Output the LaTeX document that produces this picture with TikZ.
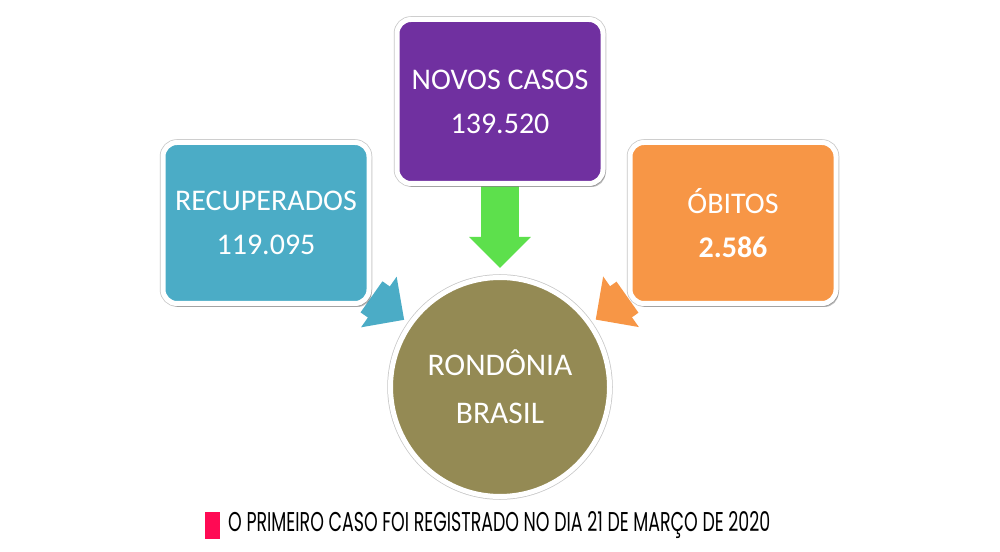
\documentclass[tikz,border=0pt]{standalone}
\usepackage{fontspec}
\setmainfont{Carlito}
\newfontfamily\notefont{Poppins}
\usetikzlibrary{arrows.meta, shadows, backgrounds}

\definecolor{recTeal}{HTML}{4BACC6}
\definecolor{newPurple}{HTML}{7030A0}
\definecolor{deathOrange}{HTML}{F79646}
\definecolor{hubOlive}{HTML}{948A54}
\definecolor{flowGreen}{HTML}{5DE04C}
\definecolor{notePink}{HTML}{FF0A54}

\begin{document}
\begin{tikzpicture}[
    x=1pt, y=1pt,
    % Style for the three rounded boxes: white rim and a soft shadow
    card/.style = {draw=white, line width=5pt, rounded corners=14pt,
        preaction={draw=black!22, line width=6.5pt},
        minimum width=206pt, minimum height=161pt, align=center,
        text=white, font=\fontsize{30}{44}\selectfont,
        drop shadow={shadow xshift=2.5pt, shadow yshift=-3.5pt, opacity=0.25, fill=black}},
    % Style for the central circle
    hub/.style = {circle, draw=white, line width=5pt, minimum size=219pt,
        preaction={draw=black!22, line width=6.5pt},
        fill=hubOlive, align=center, text=white, font=\fontsize{31.5}{48}\selectfont,
        drop shadow={shadow xshift=0pt, shadow yshift=-2pt, opacity=0.2, fill=black}},
    % Style for the fat block arrows
    flow/.style = {line width=38pt, -{Triangle[width=60pt, length=31pt]}}
]
    \useasboundingbox (0,0) rectangle (1000,551);

    % --- THE FOUR SHAPES ---
    \node[card, fill=recTeal] (recup) at (266,328) {RECUPERADOS\\119.095};
    \node[card, fill=newPurple, minimum height=164pt] (novos) at (500,449.5) {NOVOS CASOS\\139.520};
    \node[card, fill=deathOrange] (obitos) at (733,328) {ÓBITOS\\\textbf{2.586}};
    \node[hub] (rond) at (500,164) {RONDÔNIA\\BRASIL};

    % --- BLOCK ARROWS, behind the shapes ---
    \begin{scope}[on background layer]
        \fill[white] (0,0) rectangle (1000,551);
        \draw[flow, recTeal, shorten >=5pt] (recup) -- (rond);
        \draw[flow, flowGreen, shorten >=7pt] (novos) -- (rond);
        \draw[flow, deathOrange, shorten >=5pt] (obitos) -- (rond);
    \end{scope}

    % --- NOTE AT THE BOTTOM ---
    \node[fill=notePink, minimum width=15pt, minimum height=27pt, inner sep=0pt] (mark) at (212.5,25.5) {};
    \node[anchor=west, inner sep=0pt] (note) at (228,26)
        {\resizebox{542pt}{20pt}{\notefont O PRIMEIRO CASO FOI REGISTRADO NO DIA 21 DE MARÇO DE 2020}};

\end{tikzpicture}
\end{document}
